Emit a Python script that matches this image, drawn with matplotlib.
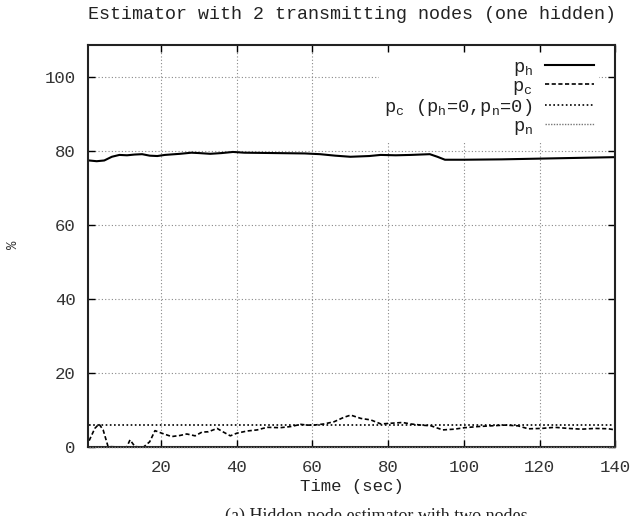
import matplotlib
matplotlib.use("Agg")
import matplotlib.pyplot as plt

plt.rcParams['font.family'] = ['Liberation Mono', 'DejaVu Sans']
plt.rcParams['mathtext.fontset'] = 'custom'
plt.rcParams['mathtext.rm'] = 'Liberation Mono'
plt.rcParams['mathtext.it'] = 'Liberation Mono'

title = "Estimator with 2 transmitting nodes (one hidden)"
xlabel = "Time (sec)"
ylabel = "%"
caption = "(a) Hidden node estimator with two nodes"

ph_t = [1, 3, 5, 7, 9, 11, 13, 15, 17, 19, 21, 25, 28, 30, 33, 36, 39, 42, 50, 58,
        62, 66, 70, 75, 78, 82, 86, 91, 93, 95, 100, 110, 120, 130, 140]
ph_v = [77.5, 77.3, 77.5, 78.5, 79.0, 78.9, 79.1, 79.2, 78.8, 78.7, 79.0, 79.3, 79.6,
        79.5, 79.3, 79.5, 79.8, 79.6, 79.5, 79.4, 79.2, 78.8, 78.5, 78.7, 79.0, 78.9,
        79.0, 79.2, 78.5, 77.7, 77.7, 77.8, 78.0, 78.2, 78.4]

pc_t = [1, 2.5, 3.6, 4.7, 6, 10.9, 11.8, 13.1, 15.3, 17, 18.4, 20.2, 22.8, 25, 26.8,
        29, 30.8, 32.5, 34.8, 36.5, 38.3, 40, 42.7, 45.4, 48, 51.5, 54.2, 56.9, 58.6,
        60.4, 63, 65.7, 68.3, 70.1, 72.8, 75.4, 78.1, 80.7, 83.8, 86, 88.7, 91.3, 94.4,
        97.5, 100.2, 103.7, 107.2, 110.8, 114.3, 117, 120.5, 124, 127.6, 131.1, 134.7,
        138.2, 140]
pc_v = [1.8, 5.1, 6.3, 4.7, 0.2, 0.0, 2.0, 0.2, 0.0, 1.5, 4.5, 3.8, 2.9, 3.2, 3.6,
        3.1, 4.1, 4.2, 5.1, 4.1, 3.1, 3.8, 4.4, 4.7, 5.4, 5.3, 5.6, 6.2, 6.0,
        6.0, 6.3, 6.9, 8.1, 8.7, 7.8, 7.4, 6.3, 6.5, 6.7, 6.3, 6.0, 5.8, 4.7,
        4.9, 5.3, 5.6, 5.8, 6.0, 5.8, 5.0, 5.1, 5.4, 5.1, 4.9, 5.1,
        5.0, 4.7]

pc0_t = [1, 140]
pc0_v = [6.0, 6.0]

pn_t = [1, 140]
pn_v = [0.0, 0.0]

xticks = [20, 40, 60, 80, 100, 120, 140]
yticks = [0, 20, 40, 60, 80, 100]

fig = plt.figure(figsize=(6.39, 5.16), dpi=100)
ax = fig.add_axes([88/639, 1 - 447.3/516, (615.3-88)/639, (447.3-45)/516])

ax.plot(ph_t, ph_v, color='black', lw=1.5, label=r'p$_\mathrm{h}$')
ax.plot(pc_t, pc_v, color='black', lw=1.2, ls=(0, (2.5, 1.5)), label=r'p$_\mathrm{c}$')
ax.plot(pc0_t, pc0_v, color='black', lw=1.2, ls=(0, (1, 1.5)),
        label=r'p$_\mathrm{c}$ (p$_\mathrm{h}$=0,p$_\mathrm{n}$=0)')
ax.plot(pn_t, pn_v, color='#777777', lw=1.0, ls=(0, (1, 1)), label=r'p$_\mathrm{n}$',
        clip_on=False, zorder=5)

ax.set_xlim(0.7, 140)
ax.set_ylim(0, 108.7)
ax.set_xticks(xticks)
ax.set_yticks(yticks)
ax.grid(True, color='#888888', ls=(0, (1, 2)), lw=0.8)
ax.tick_params(direction='in', length=5, width=1, top=True, right=True,
               labelsize=12.5, labelcolor='#333333', pad=9)
for s in ax.spines.values():
    s.set_linewidth(1.5)
    s.set_color('#222222')

ax.set_title(title, fontsize=13.2, color='#222222', pad=19)
ax.set_xlabel(xlabel, fontsize=12.5, color='#222222', labelpad=3)
fig.text(13/639, 1 - 245/516, ylabel, rotation=90, fontsize=10, color='#333333',
         ha='center', va='center')

leg = ax.legend(loc='upper right', bbox_to_anchor=(1 - 16/527, 1 - 8/402),
                markerfirst=False, fontsize=13.5, frameon=True, fancybox=False,
                edgecolor='none', facecolor='white', framealpha=1,
                handlelength=2.6, handletextpad=0.65, labelspacing=0.0,
                borderpad=0.3, borderaxespad=0)
for t in leg.get_texts():
    t.set_color('#222222')

fig.text(225/639, 1 - 525/516, caption, fontsize=13, family='Liberation Serif',
         color='#222222', ha='left', va='bottom')

fig.savefig('out.png', dpi=100)
